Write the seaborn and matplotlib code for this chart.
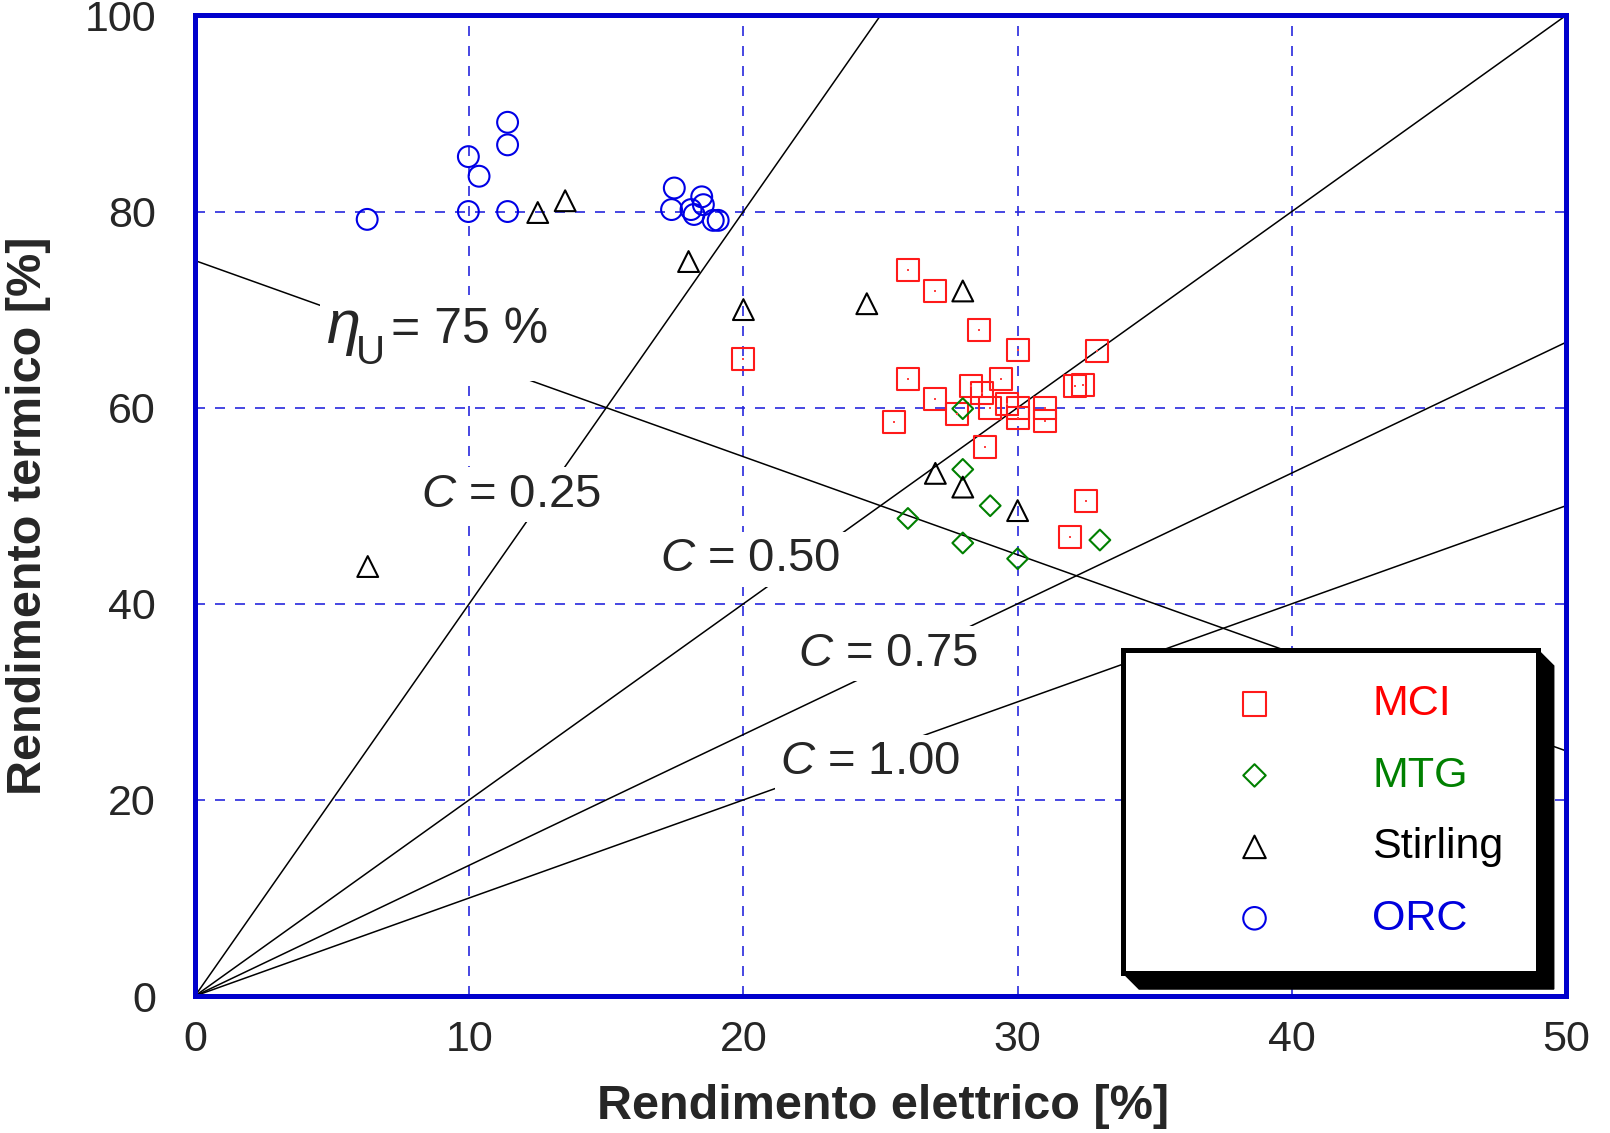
import numpy as np
import pandas as pd
import matplotlib
matplotlib.use("Agg")
import matplotlib.pyplot as plt
import seaborn as sns
from matplotlib.ticker import MultipleLocator
from matplotlib.patches import Polygon, Rectangle
from matplotlib.transforms import IdentityTransform, offset_copy, Bbox

# ---------------- data ----------------
mci_x = [20.0, 26.0, 27.0, 28.6, 30.0, 32.9, 26.0, 27.0, 25.5, 28.3, 28.7, 29.4,
         27.8, 29.0, 29.6, 30.0, 30.0, 31.0, 31.0, 32.1, 32.4, 28.8, 32.5, 31.9]
mci_y = [65.0, 74.0, 71.9, 67.9, 65.9, 65.8, 62.9, 60.9, 58.5, 62.2, 61.5, 62.9,
         59.4, 60.0, 60.4, 60.0, 58.9, 60.0, 58.6, 62.2, 62.3, 56.0, 50.5, 46.8]

mtg_x = [28.0, 28.0, 29.0, 26.0, 28.0, 30.0, 33.0]
mtg_y = [59.9, 53.7, 50.0, 48.7, 46.2, 44.6, 46.5]

stirling_x = [6.3, 12.5, 13.5, 18.0, 20.0, 24.5, 28.0, 27.0, 28.0, 30.0]
stirling_y = [43.8, 79.9, 81.1, 74.9, 70.0, 70.6, 71.9, 53.3, 51.9, 49.5]

orc_x = [6.28, 9.97, 10.36, 9.97, 11.4, 11.4, 11.4, 17.48, 17.38, 18.09, 18.2,
         18.48, 18.54, 18.9, 19.08]
orc_y = [79.2, 85.6, 83.6, 80.0, 89.1, 86.8, 80.0, 82.4, 80.2, 80.2, 79.7,
         81.5, 80.7, 79.1, 79.1]

series_names = ["MCI", "MTG", "Stirling", "ORC"]
C_values = [0.25, 0.50, 0.75, 1.00]
C_labels = ["0.25", "0.50", "0.75", "1.00"]
eta_u = 75
x_ticks = [0, 10, 20, 30, 40, 50]
y_ticks = [0, 20, 40, 60, 80, 100]
x_label = "Rendimento elettrico [%]"
y_label = "Rendimento termico [%]"

# ---------------- style ----------------
sns.set_style("white")
plt.rcParams["font.family"] = ["Liberation Sans", "DejaVu Sans"]
plt.rcParams["mathtext.fontset"] = "custom"
plt.rcParams["mathtext.rm"] = "Liberation Sans"
plt.rcParams["mathtext.it"] = "Liberation Sans:italic"
plt.rcParams["mathtext.bf"] = "Liberation Sans:bold"

colors = {"MCI": "#FF1A1A", "MTG": "#008000", "Stirling": "#000000", "ORC": "#0000E6"}
text_colors = {"MCI": "#FF0000", "MTG": "#008000", "Stirling": "#000000", "ORC": "#0000DD"}
markers = {"MCI": "s", "MTG": "D", "Stirling": "^", "ORC": "o"}
sizes = {"MCI": 250, "MTG": 112, "Stirling": 225, "ORC": 225}
spine_blue = "#0000CC"

fig = plt.figure(figsize=(16.1, 11.33), dpi=100)
ax = fig.add_axes([0.1211, 0.1209, 0.8516, 0.8655])

# grid
ax.set_axisbelow(True)
ax.grid(True, which="major", color="#2828DD", lw=1.2, linestyle=(0, (6, 6)))

# C lines (from origin)
for C in C_values:
    x_end = min(50.0, 100.0 * C)
    xs = np.array([0.0, x_end])
    ax.plot(xs, xs / C, color="black", lw=1.1, zorder=2)

# eta_U line
ex = np.array([0.0, 50.0])
ax.plot(ex, eta_u - ex, color="black", lw=1.1, zorder=2)

# scatter series
data = {"MCI": (mci_x, mci_y), "MTG": (mtg_x, mtg_y),
        "Stirling": (stirling_x, stirling_y), "ORC": (orc_x, orc_y)}
for name in series_names:
    xv, yv = data[name]
    df = pd.DataFrame({"x": xv, "y": yv})
    sns.scatterplot(data=df, x="x", y="y", ax=ax, marker=markers[name],
                    s=sizes[name], color=colors[name], facecolors="none",
                    edgecolor=colors[name], linewidth=1.5, label=name, zorder=4)
# little dots in MCI squares
sns.scatterplot(x=mci_x, y=mci_y, ax=ax, marker="s", s=3, color="#FF4444",
                linewidth=0, zorder=4, legend=False)

# C annotations
bbox = dict(facecolor="white", edgecolor="none", pad=4)
label_pos = [(8.24, 49.9), (16.96, 43.3), (22.0, 33.7), (21.35, 22.6)]
for (lx, ly), lab in zip(label_pos, C_labels):
    ax.text(lx, ly, r"$C$ = " + lab, fontsize=34, ha="left", va="baseline",
            bbox=bbox, zorder=3)

# eta_U annotation, composed of pieces
eta_anchor = (4.8, 66.6)
t_eta = ax.text(*eta_anchor, "\u03b7", fontsize=44, style="italic",
                ha="left", va="baseline", zorder=3.2)
t_sub = ax.text(*eta_anchor, "U", fontsize=29, ha="left", va="baseline",
                transform=offset_copy(ax.transData, fig=fig, x=29, y=-21.5, units="dots"),
                zorder=3.2)
t_rest = ax.text(*eta_anchor, "= %d %%" % eta_u, fontsize=36, ha="left", va="baseline",
                 transform=offset_copy(ax.transData, fig=fig, x=64, y=0, units="dots"),
                 zorder=3.2)

# axes
ax.set_xlim(0, 50)
ax.set_ylim(0, 100)
ax.set_xticks(x_ticks)
ax.set_yticks(y_ticks)
ax.xaxis.set_minor_locator(MultipleLocator(5))
ax.yaxis.set_minor_locator(MultipleLocator(10))
ax.tick_params(which="both", direction="in", color=spine_blue, width=1.0,
               length=9, top=False, right=False)
ax.tick_params(axis="x", which="major", labelsize=31, pad=17)
ax.tick_params(axis="y", which="major", labelsize=31, pad=28)
for sp in ax.spines.values():
    sp.set_color(spine_blue)
    sp.set_linewidth(3.6)
    sp.set_zorder(7)

ax.set_xlabel(x_label, fontsize=35, fontweight="bold")
ax.set_ylabel(y_label, fontsize=35, fontweight="bold")
ax.xaxis.set_label_coords(0.502, -0.090)
ax.yaxis.set_label_coords(-0.105, 0.49)

# legend
handles, labels = ax.get_legend_handles_labels()
leg = ax.legend(handles, labels, loc="upper left", bbox_to_anchor=(0.677, 0.353),
                borderaxespad=0, fontsize=31, frameon=True, fancybox=False,
                borderpad=0.8, handlelength=4.5, handletextpad=0.48,
                labelspacing=0.73, scatterpoints=1, markerscale=1.08)
leg.set_zorder(8)
frame = leg.get_frame()
frame.set_edgecolor("black")
frame.set_linewidth(3.6)
frame.set_facecolor("white")
frame.set_alpha(1)
for t, name in zip(leg.get_texts(), labels):
    t.set_color(text_colors.get(name, "black"))

fig.canvas.draw()
renderer = fig.canvas.get_renderer()

# white backing box behind the eta_U label (gap in the lines)
ub = Bbox.union([t.get_window_extent(renderer) for t in (t_eta, t_sub, t_rest)])
px, py_top, py_bot = 7, 4, 9
ax.add_patch(Rectangle((ub.x0 - px, ub.y0 - py_bot), ub.width + 2 * px,
                       ub.height + py_top + py_bot, facecolor="white",
                       edgecolor="none", transform=IdentityTransform(), zorder=3,
                       clip_on=False))

# 3D-like black shadow for legend box
bb = frame.get_window_extent(renderer)
d = 16
x0, y0, x1, y1 = bb.x0, bb.y0, bb.x1, bb.y1
shadow = Polygon([(x0, y0), (x0 + d, y0 - d), (x1 + d, y0 - d), (x1 + d, y1 - d),
                  (x1, y1), (x1, y0)], closed=True, facecolor="black",
                 edgecolor="black", transform=IdentityTransform(), zorder=7.5,
                 clip_on=False)
ax.add_patch(shadow)

fig.savefig("out.png", dpi=100)
